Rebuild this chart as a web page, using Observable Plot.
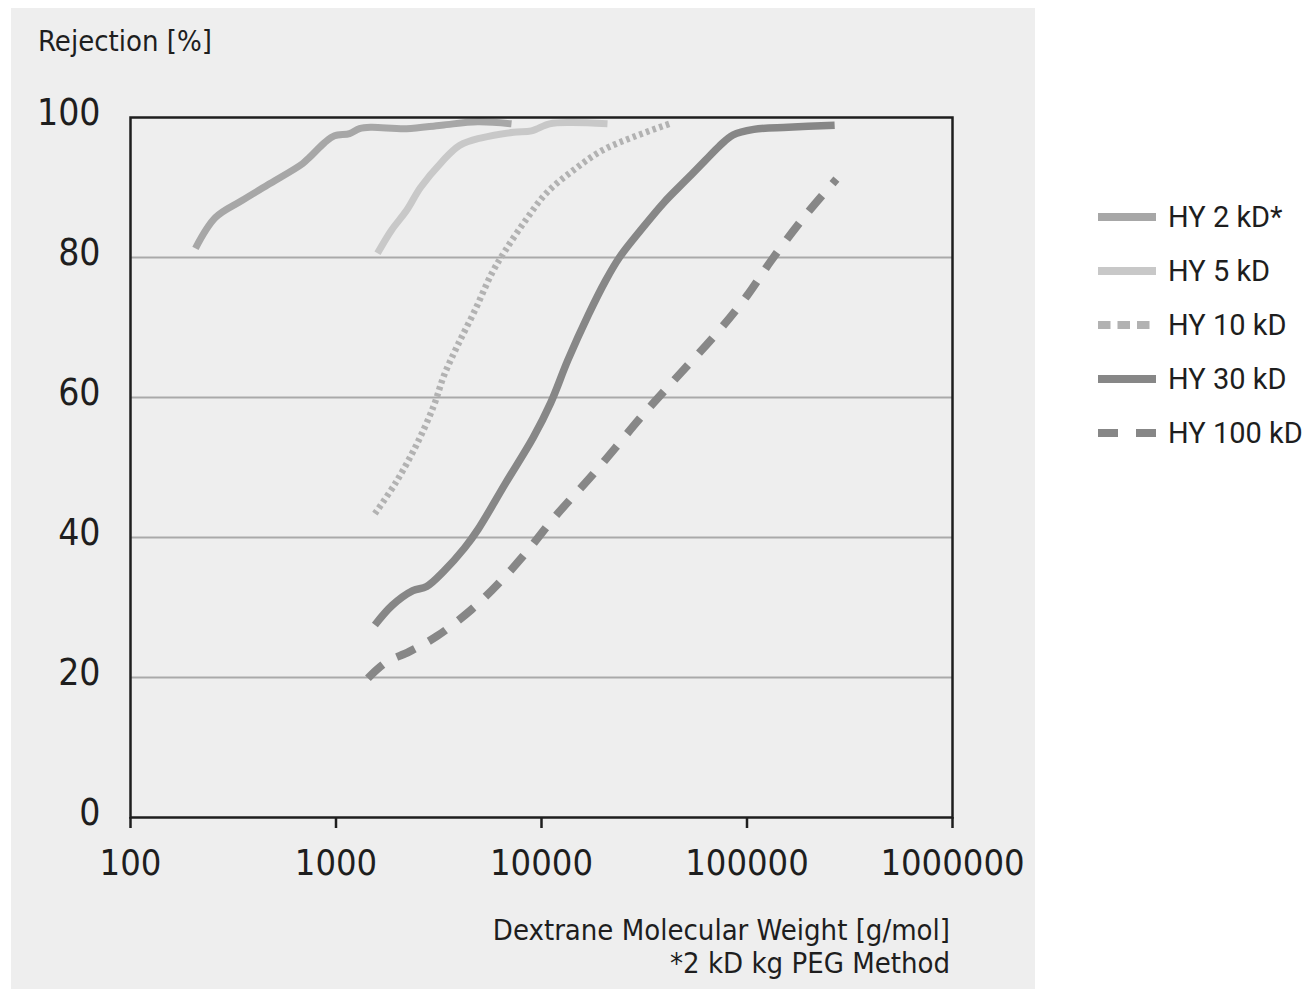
<!DOCTYPE html>
<html>
<head>
<meta charset="utf-8">
<script src="https://cdn.jsdelivr.net/npm/d3@7"></script>
<script src="https://cdn.jsdelivr.net/npm/@observablehq/plot@0.6"></script>
<style>
  html, body { margin: 0; padding: 0; background: #ffffff; }
  #wrap { position: relative; width: 1316px; height: 989px; overflow: hidden; }
  #bg { position: absolute; left: 11px; top: 8px; width: 1024px; height: 981px; background: #eeeeee; }
  #chart { position: absolute; left: 0; top: 0; }
  .lbl { position: absolute; font-family: "Liberation Sans Narrow", "DejaVu Sans Condensed", sans-serif; color: #1e1e1e; white-space: nowrap; }
  #ylab { left: 38px; top: 24px; font-size: 29px; line-height: 34px; }
  #xlab { right: 366px; top: 914px; font-size: 29px; line-height: 33px; text-align: right; }
  #legend { position: absolute; left: 1098px; top: 190px; font-family: Roboto, sans-serif; font-size: 29px; color: #1e1e1e; }
  .row { display: flex; align-items: center; height: 54px; }
  .row svg { margin-right: 12px; }
</style>
</head>
<body>
<div id="wrap">
  <div id="bg"></div>
  <div id="chart"></div>
  <div class="lbl" id="ylab">Rejection [%]</div>
  <div class="lbl" id="xlab">Dextrane Molecular Weight [g/mol]<br>*2 kD kg PEG Method</div>
  <div id="legend"></div>
</div>
<script>
// ---- data ----
const xTicks = [100, 1000, 10000, 100000, 1000000];
const yTicks = [0, 20, 40, 60, 80, 100];
const gridValues = [20, 40, 60, 80];

const seriesNames = ["HY 2 kD*", "HY 5 kD", "HY 10 kD", "HY 30 kD", "HY 100 kD"];

const hy2X = [207, 259, 347, 480, 687, 743, 879, 984, 1164, 1301, 1472, 2203, 3260, 4885, 7145];
const hy2Y = [81.3, 85.7, 88.1, 90.6, 93.4, 94.3, 96.4, 97.4, 97.7, 98.4, 98.6, 98.4, 98.9, 99.4, 99.1];

const hy5X = [1592, 1862, 2203, 2578, 3260, 3990, 5110, 7310, 8940, 10940, 13840, 20950];
const hy5Y = [80.6, 83.9, 86.7, 90.0, 93.6, 96.0, 97.1, 97.9, 98.1, 99.1, 99.3, 99.1];

const hy10X = [1546, 1950, 2460, 2980, 3350, 3900, 4735, 5745, 6700, 8450, 10640, 14500, 19740, 27900, 41900];
const hy10Y = [43.4, 47.8, 53.2, 58.7, 63.1, 67.4, 72.4, 77.8, 81.1, 85.5, 89.3, 92.6, 95.3, 97.2, 99.1];

const hy30X = [1546, 1877, 2366, 2760, 3350, 4220, 4920, 6700, 9120, 11070, 13420, 16900, 20510, 23930, 30200, 39560, 49860, 62850, 73300, 85500, 107800, 158600, 267000];
const hy30Y = [27.5, 30.3, 32.4, 33.0, 35.2, 38.5, 41.2, 47.8, 54.3, 59.2, 65.3, 71.8, 76.7, 80.0, 83.8, 87.9, 90.9, 93.9, 95.9, 97.5, 98.3, 98.6, 98.9];

const hy100X = [1430, 1737, 2275, 3096, 4560, 6210, 8450, 11500, 18270, 31350, 42750, 73300, 99800, 130700, 192300, 272300];
const hy100Y = [19.9, 22.1, 23.7, 25.9, 29.7, 33.5, 37.9, 42.8, 49.4, 57.6, 62.0, 69.6, 74.5, 79.5, 86.0, 91.2];

// ---- styles ----
const styles = [
  {stroke: "#a7a7a7", strokeWidth: 7, dash: null},
  {stroke: "#c8c8c8", strokeWidth: 7, dash: null},
  {stroke: "#b2b2b2", strokeWidth: 6.5, dash: "3.5,3.5"},
  {stroke: "#878787", strokeWidth: 7.5, dash: null},
  {stroke: "#878787", strokeWidth: 8, dash: "20,16"}
];
const seriesData = [[hy2X, hy2Y], [hy5X, hy5Y], [hy10X, hy10Y], [hy30X, hy30Y], [hy100X, hy100Y]]
  .map(([xs, ys]) => xs.map((x, i) => ({x, y: ys[i]})));

const lineMarks = seriesData.map((d, i) => Plot.line(d, {
  x: "x", y: "y",
  stroke: styles[i].stroke,
  strokeWidth: styles[i].strokeWidth,
  strokeDasharray: styles[i].dash,
  strokeLinecap: "butt",
  strokeLinejoin: "round",
  curve: "catmull-rom"
}));

const chart = Plot.plot({
  width: 1316,
  height: 989,
  marginLeft: 130,
  marginRight: 364,
  marginTop: 117,
  marginBottom: 172,
  style: {background: "transparent", fontFamily: "'Liberation Sans Narrow', 'DejaVu Sans Condensed', sans-serif", color: "#1e1e1e"},
  x: {type: "log", domain: [100, 1000000]},
  y: {domain: [0, 100]},
  marks: [
    Plot.ruleY(gridValues, {stroke: "#a9a9a9", strokeWidth: 2}),
    ...lineMarks,
    Plot.frame({stroke: "#1e1e1e", strokeWidth: 2.5}),
    Plot.axisX(xTicks, {tickSize: 11, tickPadding: 21, fontSize: 36, stroke: "#1e1e1e", strokeWidth: 2.5, tickFormat: d => String(d), label: null}),
    Plot.axisY(yTicks, {tickSize: 0, tickPadding: 30, fontSize: 37, dy: -4, tickFormat: d => String(d), label: null})
  ]
});
document.getElementById("chart").appendChild(chart);

// ---- legend ----
const legend = document.getElementById("legend");
seriesNames.forEach((name, i) => {
  const row = document.createElement("div");
  row.className = "row";
  const s = styles[i];
  row.innerHTML = `<svg width="58" height="12"><line x1="0" y1="6" x2="58" y2="6" stroke="${s.stroke}" stroke-width="8" ${i === 2 ? 'stroke-dasharray="12.5,7"' : (i === 4 ? 'stroke-dasharray="20,18"' : '')}/></svg><span>${name}</span>`;
  legend.appendChild(row);
});
</script>
</body>
</html>
